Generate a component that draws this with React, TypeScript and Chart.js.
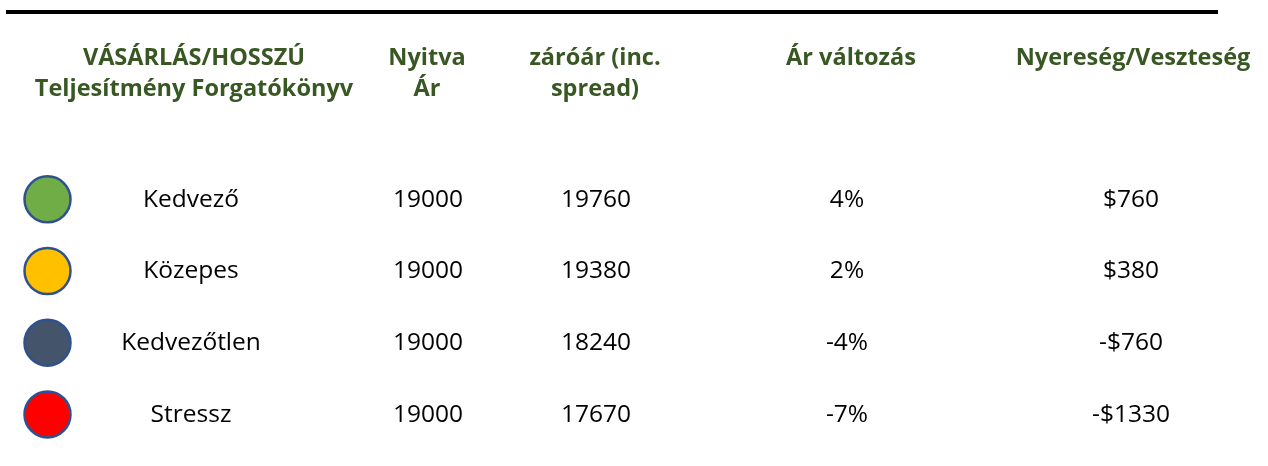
import { useEffect, useRef } from "react";
import { Chart, registerables } from "chart.js";

Chart.register(...registerables);

// ---- Data ----
const scenarios = ["Kedvező", "Közepes", "Kedvezőtlen", "Stressz"];
const openPrices = [19000, 19000, 19000, 19000];
const closePrices = [19760, 19380, 18240, 17670];
const priceChangePct = [4, 2, -4, -7];
const profitLoss = [760, 380, -760, -1330];
const headerLines = [
  ["VÁSÁRLÁS/HOSSZÚ", "Teljesítmény Forgatókönyv"],
  ["Nyitva", "Ár"],
  ["záróár (inc.", "spread)"],
  ["Ár változás"],
  ["Nyereség/Veszteség"],
];
const markerColors = ["#70AD47", "#FFC000", "#44546A", "#FF0000"];

// ---- Layout (kept apart from data) ----
const W = 1268;
const H = 466;
const MARKER_X = 47.5;
const COL_X = [191, 428, 596, 847, 1131];
const HEADER_COL_X = [194, 427, 595, 851, 1133];
const Y_MIN = -2.78;
const Y_MAX = 3.72;
const HEADER_BASE1 = -1.873;
const HEADER_BASE2 = -1.44;
const RULE_Y = -2.613;
const HEADER_COLOR = "#385723";
const BODY_FONT = "24.5px 'Open Sans', sans-serif";
const HEADER_FONT = "bold 23.5px 'Open Sans', sans-serif";

const fmtPct = (v: number) => `${v}%`;
const fmtMoney = (v: number) => (v < 0 ? `-$${Math.abs(v)}` : `$${v}`);

const tablePlugin = {
  id: "tableText",
  afterDatasetsDraw(chart: any) {
    const { ctx, scales } = chart;
    const xs = scales.x;
    const ys = scales.y;
    ctx.save();
    // top rule
    ctx.strokeStyle = "#000000";
    ctx.lineWidth = 4;
    ctx.beginPath();
    const ry = ys.getPixelForValue(RULE_Y);
    ctx.moveTo(xs.getPixelForValue(6), ry);
    ctx.lineTo(xs.getPixelForValue(1218), ry);
    ctx.stroke();

    // headers
    ctx.fillStyle = HEADER_COLOR;
    ctx.font = HEADER_FONT;
    ctx.textAlign = "center";
    ctx.textBaseline = "alphabetic";
    headerLines.forEach((lines, c) => {
      const x = xs.getPixelForValue(HEADER_COL_X[c]);
      lines.forEach((ln, k) => {
        const y = ys.getPixelForValue(k === 0 ? HEADER_BASE1 : HEADER_BASE2);
        ctx.fillText(ln, x, y);
      });
    });

    // body
    ctx.fillStyle = "#000000";
    ctx.font = BODY_FONT;
    scenarios.forEach((name, i) => {
      const y = ys.getPixelForValue(i) + 7.5;
      const cells = [
        name,
        String(openPrices[i]),
        String(closePrices[i]),
        fmtPct(priceChangePct[i]),
        fmtMoney(profitLoss[i]),
      ];
      cells.forEach((t, c) => {
        ctx.fillText(t, xs.getPixelForValue(COL_X[c]), y);
      });
    });
    ctx.restore();
  },
};

export default function App() {
  const ref = useRef<HTMLCanvasElement | null>(null);
  useEffect(() => {
    if (!ref.current) return;
    const chart = new Chart(ref.current, {
      type: "scatter",
      data: {
        datasets: [
          {
            data: scenarios.map((_, i) => ({ x: MARKER_X, y: i })),
            pointRadius: 23,
            pointHoverRadius: 23,
            pointBackgroundColor: markerColors,
            pointBorderColor: "#2F528F",
            pointBorderWidth: 2.5,
            pointHoverBorderWidth: 2.5,
            clip: false,
          } as any,
        ],
      },
      options: {
        animation: false,
        responsive: false,
        maintainAspectRatio: false,
        events: [],
        layout: { padding: 0, autoPadding: false },
        plugins: {
          legend: { display: false },
          tooltip: { enabled: false },
        },
        scales: {
          x: { type: "linear", min: 0, max: W, display: false },
          y: { type: "linear", min: Y_MIN, max: Y_MAX, reverse: true, display: false },
        },
      },
      plugins: [tablePlugin],
    });
    return () => chart.destroy();
  }, []);
  return (
    <div style={{ position: "absolute", left: 0, top: 0, width: W, height: H, background: "#fff" }}>
      <canvas ref={ref} width={W} height={H} style={{ width: W, height: H }} />
    </div>
  );
}
